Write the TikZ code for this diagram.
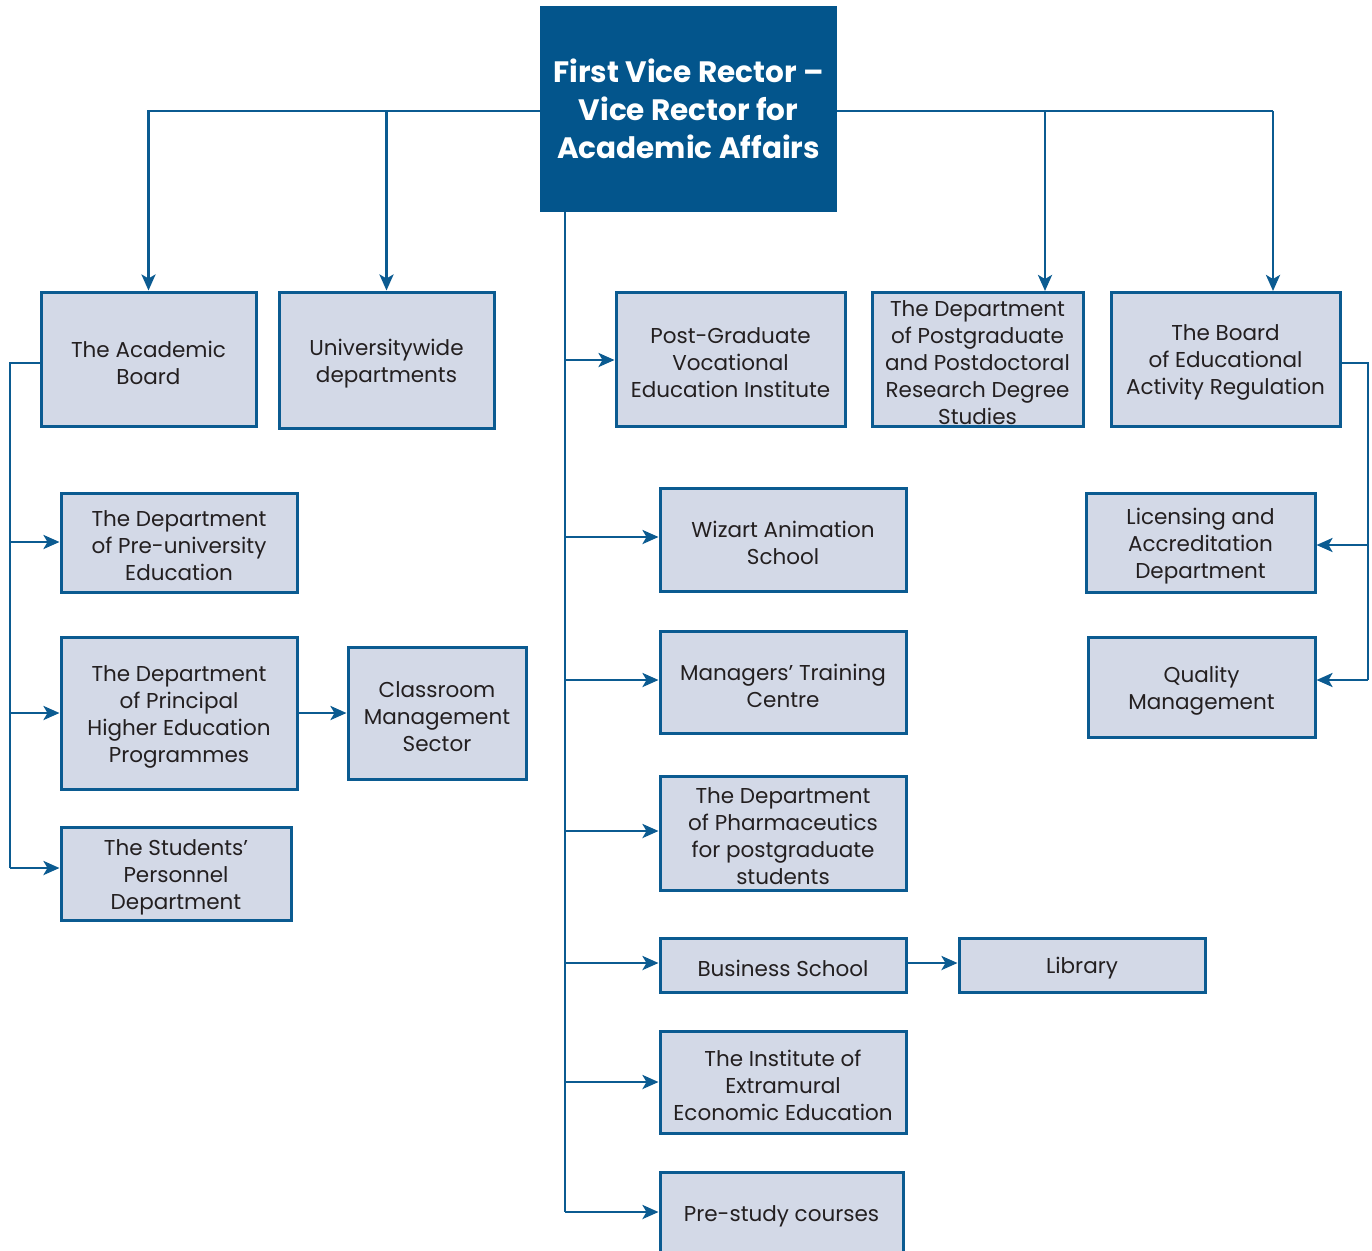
\documentclass[tikz,border=0pt]{standalone}
\usepackage{fontspec}
\setmainfont{Poppins}
\usetikzlibrary{arrows.meta,calc}
\definecolor{navy}{HTML}{03558C}
\definecolor{edge}{HTML}{0B5B91}
\definecolor{boxfill}{HTML}{D3D9E7}
\definecolor{txt}{HTML}{231F20}
\tikzset{
  box/.style={draw=edge, fill=boxfill, line width=3pt, inner sep=0pt},
  lbl/.style={inner sep=0pt, align=center, text=txt, font=\fontsize{21.5}{27}\selectfont},
  topbox/.style={fill=navy, inner sep=0pt, align=center, text=white,
    font=\fontsize{29.5}{38}\selectfont\bfseries},
  conn/.style={draw=edge, line width=2.8pt},
  arr/.style={conn, -{Stealth[length=16pt,width=14pt,inset=4pt]}}
}
% name, centre, width, height, text
\newcommand\orgbox[5]{%
  \node[box, minimum width=#3pt, minimum height=#4pt] (#1) at (#2) {};
  \node[lbl] (#1-t) at ([yshift=-3.5pt]#1.center) {#5};}
\begin{document}
\begin{tikzpicture}[x=1pt,y=-1pt]
\clip (0,0) rectangle (1372,1250);
\fill[white] (0,0) rectangle (1372,1250);
% top
\node[topbox, minimum width=297pt, minimum height=206pt] (top) at (688.5,109) {First Vice Rector –\\Vice Rector for\\Academic Affairs};
% row 1
\orgbox{ab}{148.5,359}{215}{134}{The Academic\\Board}
\orgbox{ud}{386.5,360}{215}{136}{Universitywide\\departments}
\orgbox{pg}{730.5,359}{229}{134}{Post-Graduate\\Vocational\\Education Institute}
\orgbox{dp}{977.5,359}{211}{134}{The Department\\of Postgraduate\\and Postdoctoral\\Research Degree\\Studies}
\orgbox{be}{1225.5,359}{229}{134}{The Board\\of Educational\\Activity Regulation}
% left column
\orgbox{pu}{179,542.5}{236}{99}{The Department\\of Pre-university\\Education}
\orgbox{ph}{179,713}{236}{152}{The Department\\of Principal\\Higher Education\\Programmes}
\orgbox{cm}{437,713}{178}{132}{Classroom\\Management\\Sector}
\orgbox{st}{176,873.5}{230}{93}{The Students’\\Personnel\\Department}
% centre column
\orgbox{wz}{783,539.5}{246}{103}{Wizart Animation\\School}
\orgbox{mt}{783,682}{246}{102}{Managers’ Training\\Centre}
\orgbox{ph2}{783,833}{246}{114}{The Department\\of Pharmaceutics\\for postgraduate\\students}
\orgbox{bs}{783,965}{246}{54}{Business School}
\orgbox{lib}{1082,965}{246}{54}{Library}
\orgbox{ie}{783,1082}{246}{102}{The Institute of\\Extramural\\Economic Education}
\node[box, minimum width=243pt, minimum height=80pt] (ps) at (781.5,1212) {};
\node[lbl] (ps-t) at (781.5,1216) {Pre-study courses};
% right column
\orgbox{lc}{1200.5,542.5}{229}{99}{Licensing and\\Accreditation\\Department}
\orgbox{qm}{1201.5,687}{227}{100}{Quality\\Management}
% connectors from top
\coordinate (tl) at (540,111);
\coordinate (tr) at (837,111);
\draw[arr] (tl) -| (ab.north);
\draw[arr] (ud.north |- tl) -- (ud.north);
\draw[conn] (tr) -- (1273,111);
\draw[arr] (1273,111) -- (1273,291);
\draw[arr] (1045,111) -- (1045,291);
% trunk
\coordinate (t0) at (565,212);
\coordinate (t1) at (565,1212);
\draw[conn] (t0) -- (t1);
\draw[arr] (565,360) -- (pg.west |- 0,360);
\draw[arr] (565,537) -- (wz.west |- 0,537);
\draw[arr] (565,680) -- (mt.west |- 0,680);
\draw[arr] (565,831) -- (ph2.west |- 0,831);
\draw[arr] (565,963) -- (bs.west |- 0,963);
\draw[arr] (565,1082) -- (ie.west |- 0,1082);
\draw[arr] (t1) -- (t1 -| ps.west);
\draw[arr] (bs.east |- 0,963) -- (lib.west |- 0,963);
% left branch
\coordinate (L) at (10,363);
\draw[conn] (ab.west |- L) -- (L) -- (10,868);
\draw[arr] (10,542) -- (pu.west |- 0,542);
\draw[arr] (ph.west -| L) -- (ph.west);
\draw[arr] (10,868) -- (st.west |- 0,868);
\draw[arr] (ph.east) -- (cm.west);
% right branch
\coordinate (R) at (1368,363);
\draw[conn] (be.east |- R) -- (R) -- (1368,680);
\draw[arr] (R |- 0,545) -- (lc.east |- 0,545);
\draw[arr] (1368,680) -- (qm.east |- 0,680);
\end{tikzpicture}
\end{document}
